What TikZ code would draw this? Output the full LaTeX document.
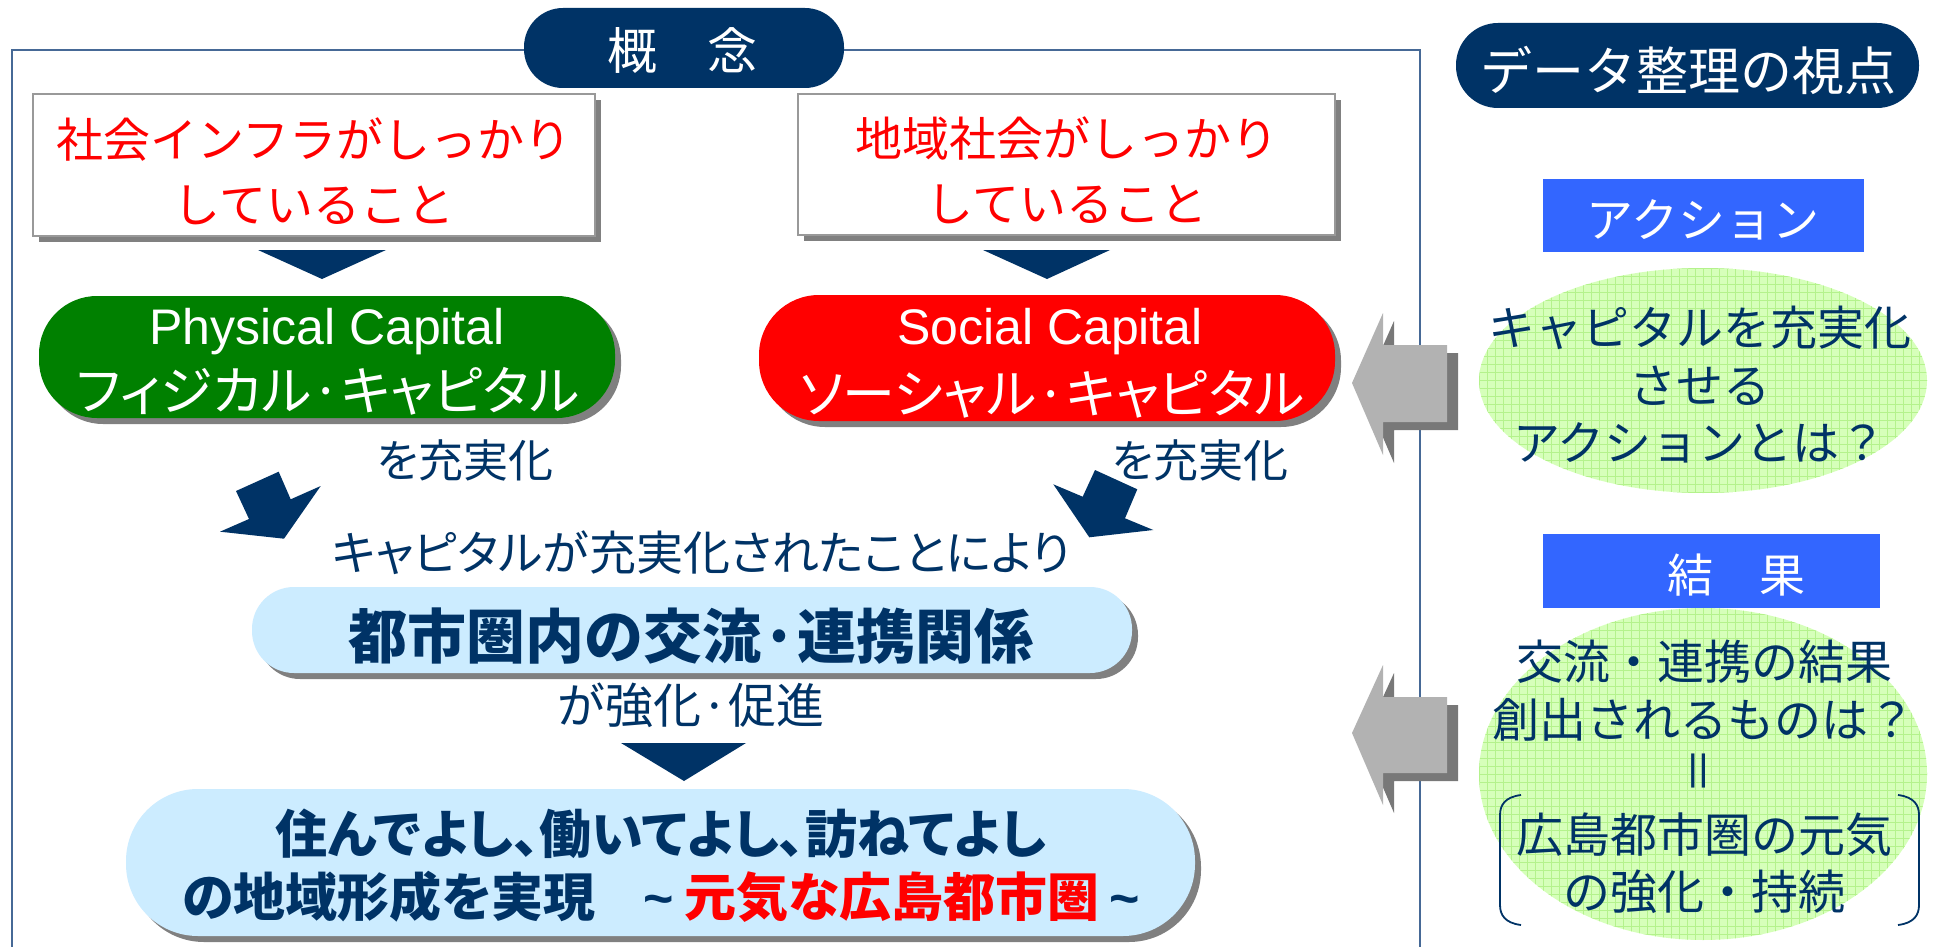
\documentclass[tikz,border=0pt]{standalone}
\usepackage{fontspec}
\usepackage{graphicx}
\newfontfamily\jp{Noto Sans CJK JP}
\newfontfamily\jpp{Noto Sans CJK JP}[RawFeature=+palt]
\newfontfamily\lat{Liberation Sans}
\usetikzlibrary{shadows,shapes.geometric}
\definecolor{navy}{RGB}{0,51,102}
\definecolor{framec}{RGB}{70,105,150}
\definecolor{shadowgray}{RGB}{128,128,128}
\definecolor{pgreen}{RGB}{0,128,0}
\definecolor{pred}{RGB}{255,0,0}
\definecolor{lblue}{RGB}{204,236,255}
\definecolor{bblue}{RGB}{51,102,255}
\definecolor{egreen}{RGB}{214,255,186}
\definecolor{ggrid}{RGB}{180,242,140}
\definecolor{agray}{RGB}{178,178,178}
\definecolor{adark}{RGB}{120,120,120}
\tikzset{
  shad/.style={drop shadow={shadow xshift=3pt,shadow yshift=-3pt,fill=shadowgray,opacity=1}},
  conceptbox/.style={shad, fill=white, draw=black!40, line width=0.6pt, inner sep=0pt},
  pill/.style={shad, rounded corners=#1, inner sep=0pt},
  navypill/.style={fill=navy, rounded corners=#1, inner sep=0pt},
  bluebox/.style={fill=bblue, inner sep=0pt},
  gridell/.style={ellipse, fill=egreen, inner sep=0pt,
    path picture={\draw[ggrid, line width=0.35pt, step=4pt]
      (path picture bounding box.south west) grid (path picture bounding box.north east);}},
  redtxt/.style={text=pred, align=center, font=\jp\fontsize{23.5pt}{32.5pt}\selectfont},
  navytxt/.style={text=navy, align=center, font=\jpp\fontsize{#1}{#1}\selectfont},
  elltxt/.style={text=navy, align=center, font=\jp\fontsize{23.5pt}{28.75pt}\selectfont},
  graylight/.style={fill=agray},
  graydark/.style={fill=adark},
}
\begin{document}
\begin{tikzpicture}[x=0.5pt,y=-0.5pt]
\useasboundingbox (0,0) rectangle (1933,947);
\fill[white] (0,0) rectangle (1933,947);

% frame
\draw[framec, line width=1pt] (12,947) -- (12,50) -- (1420,50) -- (1420,947);

% tab
\node[navypill=19.5pt, minimum width=160pt, minimum height=40pt] (tab) at (684,48) {};
\node[text=white, font=\jp\fontsize{25pt}{25pt}\selectfont] (tabt) at (682,51) {概　念};

% view title
\node[navypill=21pt, minimum width=231.5pt, minimum height=42.5pt] (view) at (1687.5,65.5) {};
\node[text=white, font=\jp\fontsize{26pt}{26pt}\selectfont] (viewt) at (1688,70) {データ整理の視点};

% top boxes
\node[conceptbox, minimum width=281pt, minimum height=71pt] (box1) at (314,165) {};
\node[redtxt] (box1t) at (314,171.5) {社会インフラがしっかり\\していること};
\node[conceptbox, minimum width=268.5pt, minimum height=70.5pt] (box2) at (1066.5,164.5) {};
\node[redtxt] (box2t) at (1067,170.5) {地域社会がしっかり\\していること};

% down triangles
\fill[navy] (258,250) -- (386,250) -- (322,279) -- cycle;
\fill[navy] (983,250) -- (1110,250) -- (1047,279) -- cycle;

% capital pills
\node[pill=29pt, fill=pgreen, minimum width=288pt, minimum height=61pt] (green) at (327,357) {};
\node[text=white, font=\lat\fontsize{25pt}{25pt}\selectfont] (greent1) at (327,332) {Physical Capital};
\node[text=white, font=\jpp\fontsize{26.5pt}{26.5pt}\selectfont] (greent2) at (328,391) {フィジカル·キャピタル};
\node[pill=30pt, fill=pred, minimum width=288pt, minimum height=63pt] (red) at (1047,358) {};
\node[text=white, font=\lat\fontsize{25pt}{25pt}\selectfont] (redt1) at (1050,332) {Social Capital};
\node[text=white, font=\jpp\fontsize{26.5pt}{26.5pt}\selectfont] (redt2) at (1052,394) {ソーシャル·キャピタル};

% を充実化
\node[navytxt=22.5pt] (juu1) at (465,460) {を充実化};
\node[navytxt=22.5pt] (juu2) at (1200,460) {を充実化};

% diagonal arrows
\fill[navy] (278.7,471.7) -- (236,491) -- (249,519) -- (220,531.7) -- (284,538.7) -- (320.7,486) -- (290.7,499.3) -- cycle;
\fill[navy] (1095,470) -- (1137.3,489.3) -- (1125,518.3) -- (1153.3,530) -- (1089.3,537.3) -- (1053.3,484.3) -- (1082.7,496.7) -- cycle;

\node[navytxt=23.5pt] (cap) at (701,553) {キャピタルが充実化されたことにより};

% exchange pill
\node[pill=21pt, fill=lblue, minimum width=440pt, minimum height=43pt] (lb1) at (692,630) {};
\node[text=navy, font=\jpp\bfseries\fontsize{29.5pt}{29.5pt}\selectfont] (lb1t) at (691,636) {都市圏内の交流·連携関係};

\node[navytxt=24pt] (kyo) at (691,705) {が強化·促進};

\fill[navy] (621,743) -- (746,743) -- (684,781) -- cycle;

% bottom pill
\node[pill=36pt, fill=lblue, minimum width=534.5pt, minimum height=73.5pt] (lb2) at (660.5,862.5) {};
\node[text=navy, align=center, font=\jpp\bfseries\fontsize{26pt}{31.5pt}\selectfont] (lb2t) at (661,866)
  {住んでよし、働いてよし、訪ねてよし\\の地域形成を実現\hspace{24pt}{\lat\textasciitilde}\hspace{5pt}\textcolor{pred}{元気な広島都市圏}\hspace{5pt}{\lat\textasciitilde}};

% gray arrows
\fill[graydark] (1363,391) -- (1394,321) -- (1394,353) -- (1458,353) -- (1458,430) -- (1394,430) -- (1394,463) -- cycle;
\fill[graylight] (1352,383) -- (1383,313) -- (1383,345) -- (1447,345) -- (1447,422) -- (1383,422) -- (1383,455) -- cycle;
\fill[graydark] (1363,741) -- (1394,673) -- (1394,705) -- (1458,705) -- (1458,781) -- (1394,781) -- (1394,813) -- cycle;
\fill[graylight] (1352,733) -- (1383,665) -- (1383,697) -- (1447,697) -- (1447,773) -- (1383,773) -- (1383,805) -- cycle;

% right column
\node[bluebox, minimum width=160.5pt, minimum height=36.5pt] (act) at (1703.5,215.5) {};
\node[text=white, font=\jp\fontsize{23.5pt}{23.5pt}\selectfont] (actt) at (1703,220) {アクション};
\node[gridell, minimum width=224pt, minimum height=112.5pt] (ell1) at (1703,380.5) {};
\node[elltxt] (ell1t) at (1700,385) {キャピタルを充実化\\させる\\アクションとは？};

\node[bluebox, minimum width=168.5pt, minimum height=37pt] (res) at (1711.5,571) {};
\node[text=white, font=\jp\fontsize{23pt}{23pt}\selectfont] (rest) at (1736,575) {結　果};
\node[gridell, minimum width=224pt, minimum height=166pt] (ell2) at (1703,774) {};
\node[elltxt] (ell2t) at (1704,777) {交流・連携の結果\\創出されるものは？\\\smash{\rotatebox{90}{＝}}\\広島都市圏の元気\\の強化・持続};

% brackets
\draw[navy, line width=0.9pt] (1521,795) .. controls (1505,797) and (1500,805) .. (1500,815) -- (1500,905) .. controls (1500,915) and (1505,923) .. (1521,925);
\draw[navy, line width=0.9pt] (1898,795) .. controls (1914,797) and (1919,805) .. (1919,815) -- (1919,905) .. controls (1919,915) and (1914,923) .. (1898,925);
\end{tikzpicture}
\end{document}
